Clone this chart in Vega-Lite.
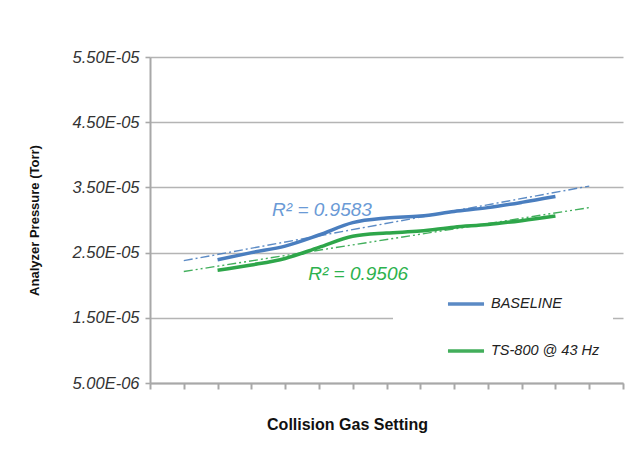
{
  "$schema": "https://vega.github.io/schema/vega-lite/v6.json",
  "autosize": {"type": "none"},
  "width": 473,
  "height": 326,
  "padding": {"left": 150, "top": 57, "right": 21, "bottom": 66},
  "background": "white",
  "config": {
    "view": {"stroke": null},
    "font": "Liberation Sans"
  },
  "datasets": {
    "series": [
      {"setting": 2, "pressure": 2.39e-5, "series": "BASELINE"},
      {"setting": 3, "pressure": 2.50e-5, "series": "BASELINE"},
      {"setting": 4, "pressure": 2.60e-5, "series": "BASELINE"},
      {"setting": 5, "pressure": 2.77e-5, "series": "BASELINE"},
      {"setting": 6, "pressure": 2.96e-5, "series": "BASELINE"},
      {"setting": 7, "pressure": 3.03e-5, "series": "BASELINE"},
      {"setting": 8, "pressure": 3.06e-5, "series": "BASELINE"},
      {"setting": 9, "pressure": 3.13e-5, "series": "BASELINE"},
      {"setting": 10, "pressure": 3.19e-5, "series": "BASELINE"},
      {"setting": 11, "pressure": 3.27e-5, "series": "BASELINE"},
      {"setting": 12, "pressure": 3.36e-5, "series": "BASELINE"},
      {"setting": 2, "pressure": 2.23e-5, "series": "TS-800 @ 43 Hz"},
      {"setting": 3, "pressure": 2.31e-5, "series": "TS-800 @ 43 Hz"},
      {"setting": 4, "pressure": 2.41e-5, "series": "TS-800 @ 43 Hz"},
      {"setting": 5, "pressure": 2.58e-5, "series": "TS-800 @ 43 Hz"},
      {"setting": 6, "pressure": 2.75e-5, "series": "TS-800 @ 43 Hz"},
      {"setting": 7, "pressure": 2.80e-5, "series": "TS-800 @ 43 Hz"},
      {"setting": 8, "pressure": 2.83e-5, "series": "TS-800 @ 43 Hz"},
      {"setting": 9, "pressure": 2.89e-5, "series": "TS-800 @ 43 Hz"},
      {"setting": 10, "pressure": 2.93e-5, "series": "TS-800 @ 43 Hz"},
      {"setting": 11, "pressure": 2.99e-5, "series": "TS-800 @ 43 Hz"},
      {"setting": 12, "pressure": 3.06e-5, "series": "TS-800 @ 43 Hz"}
    ],
    "trend": [
      {"setting": 1, "pressure": 2.376e-5, "series": "BASELINE"},
      {"setting": 13, "pressure": 3.52e-5, "series": "BASELINE"},
      {"setting": 1, "pressure": 2.21e-5, "series": "TS-800 @ 43 Hz"},
      {"setting": 13, "pressure": 3.19e-5, "series": "TS-800 @ 43 Hz"}
    ],
    "labels": [
      {"setting": 5.09, "pressure": 3.06e-5, "series": "BASELINE", "label": "R² = 0.9583"},
      {"setting": 6.16, "pressure": 2.08e-5, "series": "TS-800 @ 43 Hz", "label": "R² = 0.9506"}
    ]
  },
  "encoding": {
    "x": {
      "field": "setting",
      "type": "quantitative",
      "scale": {"domain": [0, 14], "nice": false, "zero": false},
      "axis": {
        "title": "Collision Gas Setting",
        "values": [0, 1, 2, 3, 4, 5, 6, 7, 8, 9, 10, 11, 12, 13, 14],
        "labels": false,
        "grid": false,
        "domainColor": "#a8a8a8",
        "domainWidth": 2,
        "tickColor": "#a8a8a8",
        "tickWidth": 2,
        "tickSize": 6,
        "titleFont": "Liberation Sans",
        "titleFontWeight": "bold",
        "titleFontSize": 16,
        "titleColor": "#111111",
        "titleX": 197,
        "titleY": 46,
        "titleBaseline": "alphabetic"
      }
    },
    "y": {
      "field": "pressure",
      "type": "quantitative",
      "scale": {"domain": [5e-6, 5.5e-5], "nice": false, "zero": false},
      "axis": {
        "title": "Analyzer Pressure (Torr)",
        "values": [5e-6, 1.5e-5, 2.5e-5, 3.5e-5, 4.5e-5, 5.5e-5],
        "labelExpr": "replace(format(datum.value, '.2e'), 'e-', 'E-0')",
        "labelFont": "Liberation Sans",
        "labelFontStyle": "italic",
        "labelFontSize": 16.5,
        "labelColor": "#333333",
        "labelPadding": 6,
        "grid": true,
        "gridColor": "#b4b4b4",
        "gridWidth": 1.6,
        "domainColor": "#a8a8a8",
        "domainWidth": 2,
        "tickColor": "#a8a8a8",
        "tickWidth": 1.6,
        "tickSize": 5,
        "titleFont": "Liberation Sans",
        "titleFontWeight": "bold",
        "titleFontSize": 13,
        "titleColor": "#111111",
        "titleX": -112,
        "titleY": 163,
        "titleAlign": "center",
        "titleBaseline": "alphabetic"
      }
    }
  },
  "layer": [
    {
      "data": {"name": "series"},
      "mark": {"type": "line", "interpolate": "monotone", "strokeWidth": 3.5},
      "encoding": {
        "color": {
          "field": "series",
          "type": "nominal",
          "scale": {"domain": ["BASELINE", "TS-800 @ 43 Hz"], "range": ["#4a7ebf", "#2ea64a"]},
          "legend": {
            "title": " ",
            "titleOrient": "right",
            "titlePadding": 12,
            "orient": "none",
            "legendX": 243,
            "legendY": 225,
            "fillColor": "white",
            "padding": 2,
            "symbolType": "stroke",
            "symbolSize": 1300,
            "symbolStrokeWidth": 3.5,
            "symbolOffset": 51,
            "labelOffset": 5,
            "labelFont": "Liberation Sans",
            "labelFontStyle": "italic",
            "labelFontSize": 14.5,
            "labelColor": "#222222",
            "rowPadding": 20
          }
        }
      }
    },
    {
      "data": {"name": "trend"},
      "transform": [{"filter": "datum.series === 'BASELINE'"}],
      "mark": {"type": "line", "strokeWidth": 1.4, "opacity": 0.9, "strokeDash": [9, 3, 2, 3]},
      "encoding": {
        "color": {"field": "series", "type": "nominal"}
      }
    },
    {
      "data": {"name": "trend"},
      "transform": [{"filter": "datum.series !== 'BASELINE'"}],
      "mark": {"type": "line", "strokeWidth": 1.4, "opacity": 0.9, "strokeDash": [9, 3, 2, 3, 2, 3]},
      "encoding": {
        "color": {"field": "series", "type": "nominal"}
      }
    },
    {
      "data": {"name": "labels"},
      "mark": {"type": "text", "font": "Liberation Sans", "fontStyle": "italic", "fontSize": 19, "align": "center", "baseline": "alphabetic"},
      "encoding": {
        "text": {"field": "label"},
        "fill": {
          "field": "series",
          "type": "nominal",
          "scale": {"domain": ["BASELINE", "TS-800 @ 43 Hz"], "range": ["#6a9ad6", "#2db24e"]},
          "legend": null
        }
      }
    }
  ]
}
